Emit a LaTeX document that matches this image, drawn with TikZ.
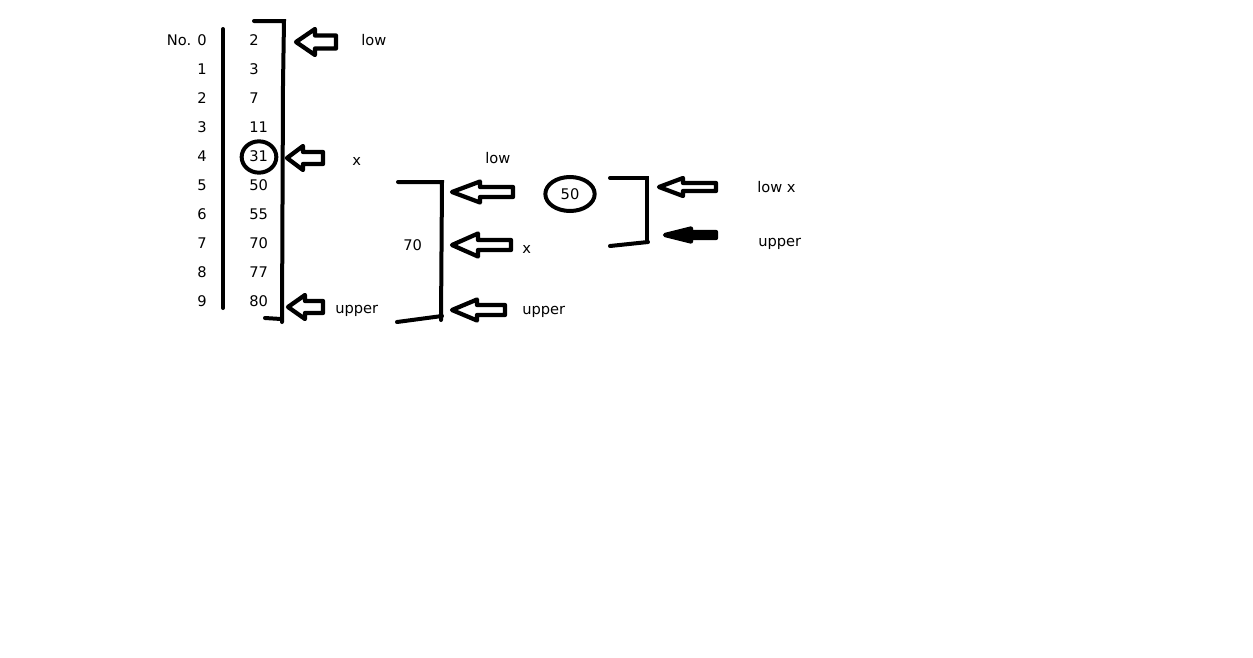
\documentclass[tikz,border=0pt]{standalone}
\usepackage{fontspec}
\setmainfont{DejaVu Sans}
\usetikzlibrary{shapes.geometric}

\begin{document}
\begin{tikzpicture}[x=0.75pt,y=-0.75pt,
  lbl/.style={font=\fontsize{11pt}{13pt}\selectfont,inner sep=0pt},
  brk/.style={line width=3pt,line cap=round},
  ring/.style={draw,ellipse,line width=3pt,inner sep=0pt},
  arrpaint/.style={},
  pics/barrow/.style n args={4}{code={%
    \draw[line width=3.2pt,line join=round,arrpaint] (0,0) -- (#2,-#3) -- (#2,-#4) -- (#1,-#4)
      -- (#1,#4) -- (#2,#4) -- (#2,#3) -- cycle;}}]
  \useasboundingbox (0,0) rectangle (1253,657);
  % index column and sorted values
  \foreach \v [count=\i from 0] in {2,3,7,11,31,50,55,70,77,80} {
    \node[lbl,anchor=base east] (idx\i) at (207,45+29*\i) {\ifnum\i=0 No. 0\else\i\fi};
    \node[lbl,anchor=base west] (val\i) at (249,45+29*\i) {\v};
  }
  \draw[brk] (223,29) -- (223,308);
  \node[ring,minimum width=26pt,minimum height=23.5pt] (ring31) at (259,157) {};
  % first search range
  \draw[brk] (254,21) -- (284,21) -- (283,85) -- (282,322);
  \draw[brk] (265,318) -- (281,319);
  \pic at (296,42) {barrow={40}{19}{13}{6.5}};
  \pic at (287,158) {barrow={36}{16}{12}{6}};
  \pic at (288,307) {barrow={35}{17}{12}{6}};
  \node[lbl,anchor=base west] (low1) at (361,45) {low};
  \node[lbl,anchor=base west] (x1) at (352,165) {x};
  \node[lbl,anchor=base west] (up1) at (335,313) {upper};
  % second search range
  \draw[brk] (398,182) -- (442,182) -- (441,320);
  \draw[brk] (397,322) -- (442,316);
  \node[lbl,anchor=base west] (mid2) at (403,250) {70};
  \pic at (452,192) {barrow={61}{28}{10.5}{5}};
  \pic at (452,245) {barrow={59}{26}{11.5}{5}};
  \pic at (452,310) {barrow={53}{25}{10.5}{5}};
  \node[lbl,anchor=base west] (low2) at (485,163) {low};
  \node[lbl,anchor=base west] (x2) at (522,253) {x};
  \node[lbl,anchor=base west] (up2) at (522,314) {upper};
  % third search range
  \node[ring,lbl,text height=8pt,text depth=0pt,minimum width=37pt,minimum height=25.5pt] (ring50) at (570,194) {50};
  \draw[brk] (610,178) -- (647,178) -- (647,242);
  \draw[brk] (610,246) -- (648,242);
  \pic at (659,187) {barrow={57}{24}{9}{4}};
  \pic[arrpaint/.style={fill=black}] at (665,235) {barrow={51}{26}{6.5}{3}};
  \node[lbl,anchor=base west] (low3) at (757,192) {low x};
  \node[lbl,anchor=base west] (up3) at (758,246) {upper};
\end{tikzpicture}
\end{document}
